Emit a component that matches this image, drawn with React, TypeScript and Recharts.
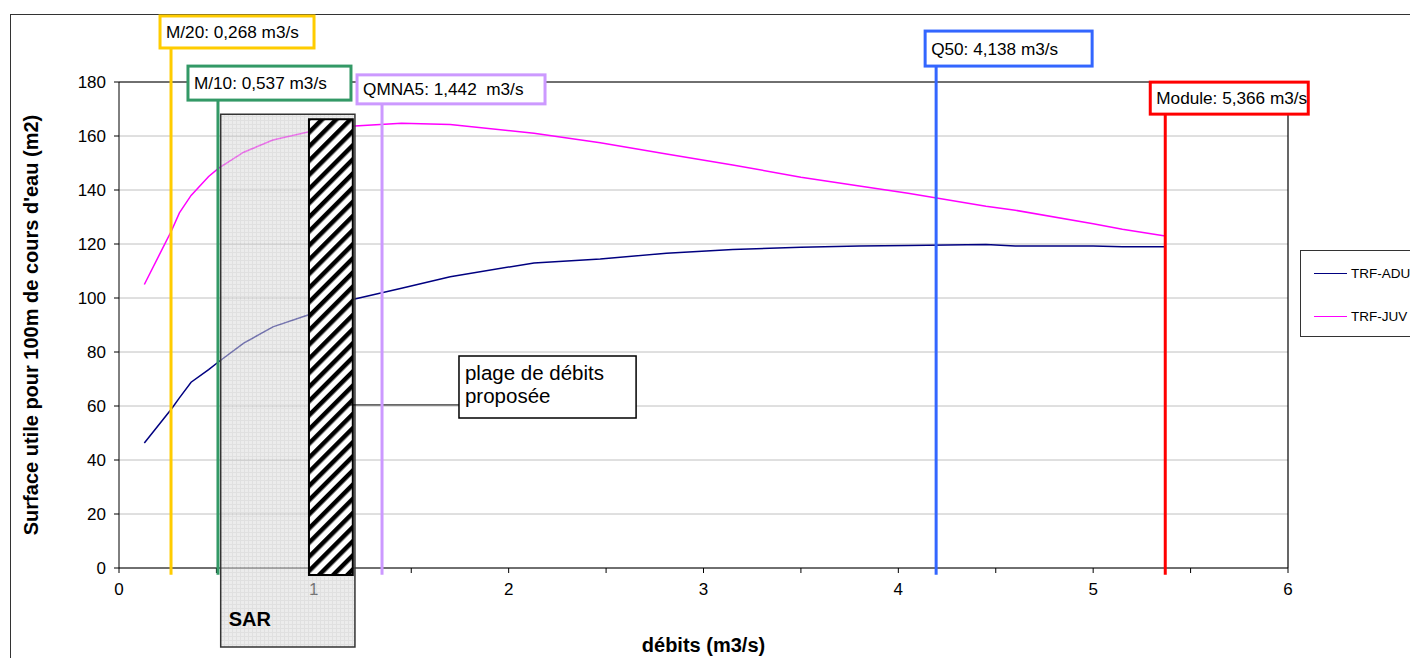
import React from 'react';
import {
  LineChart,
  Line,
  XAxis,
  YAxis,
  CartesianGrid,
  Legend,
  ReferenceLine,
  ReferenceArea
} from 'recharts';

// Débits (m3/s) et surfaces utiles (m2 / 100m)
const flows = [0.13, 0.27, 0.31, 0.37, 0.46, 0.51, 0.64, 0.79, 0.97, 1.21, 1.45, 1.70, 2.13, 2.47, 2.81, 3.15, 3.50, 3.80, 4.05, 4.45, 4.60, 5.00, 5.15, 5.37];
const adultArea = [46.3, 59, 63, 68.8, 73.5, 76.3, 83.3, 89.3, 93.7, 99.6, 103.6, 107.9, 113, 114.4, 116.6, 118, 118.8, 119.3, 119.4, 119.8, 119.3, 119.3, 119, 119];
const juvenileArea = [105, 125, 131.5, 138, 145, 148, 154, 158.5, 161.5, 163.7, 164.7, 164.3, 161, 157.5, 153.3, 149.3, 144.7, 141.5, 138.8, 134, 132.5, 127.5, 125.5, 123];

const seriesNames = ['TRF-ADU', 'TRF-JUV'];
const seriesColors = ['#000080', '#FF00FF'];

const xTicks = [0, 0.5, 1, 1.5, 2, 2.5, 3, 3.5, 4, 4.5, 5, 5.5, 6];
const yTicks = [0, 20, 40, 60, 80, 100, 120, 140, 160, 180];

// Débits caractéristiques
const markerNames = ['M/20: 0,268 m3/s', 'M/10: 0,537 m3/s', 'QMNA5: 1,442  m3/s', 'Q50: 4,138 m3/s', 'Module: 5,366 m3/s'];
const markerFlows = [0.267, 0.508, 1.35, 4.194, 5.37];
const markerTops = [192.6, 173.3, 171.9, 185.9, 168.1];
const markerColors = ['#FFCC00', '#339966', '#CC99FF', '#3366FF', '#FF0000'];

// SAR zone and proposed range (x in m3/s, y in m2)
const sarRange = [0.522, 1.211];
const sarHeight = [-29.3, 168.1];
const proposedRange = [0.975, 1.2];
const proposedHeight = [-2.6, 166.2];
const noteLines = ['plage de débits', 'proposée'];
const noteRange = [1.745, 2.654];
const noteHeight = [55.6, 78.5];
const noteLinkY = 60.4;

const FONT = '"Liberation Sans", Arial, sans-serif';

const data = flows.map((q, i) => ({ q, adu: adultArea[i], juv: juvenileArea[i] }));

// label box geometry relative to the marker line top
const markerBoxes = [
  { dx: -11, w: 154, h: 32 },
  { dx: -30, w: 163, h: 34 },
  { dx: -25, w: 188, h: 29 },
  { dx: -11, w: 167, h: 35 },
  { dx: -15, w: 158, h: 32 }
];

const MarkerBox = ({ viewBox, idx }: any) => {
  if (!viewBox) return null;
  const box = markerBoxes[idx];
  const x = viewBox.x + box.dx;
  const y = viewBox.y - box.h;
  return (
    <g>
      <rect x={x} y={y} width={box.w} height={box.h} fill="#fff" stroke={markerColors[idx]} strokeWidth={3} />
      <text x={x + 6} y={y + box.h / 2 + 6} fontSize={17.2} fontFamily={FONT} fill="#000" style={{ whiteSpace: 'pre' }}>
        {markerNames[idx]}
      </text>
    </g>
  );
};

const renderLegend = (props: any) => {
  const { payload } = props;
  return (
    <div
      style={{
        width: 140,
        height: 87,
        boxSizing: 'border-box',
        border: '1.5px solid #333',
        background: '#fff',
        fontFamily: FONT,
        fontSize: 13.5,
        position: 'relative'
      }}
    >
      {(payload || []).map((entry: any, i: number) => (
        <div key={i} style={{ position: 'absolute', left: 13, top: 13 + i * 43, display: 'flex', alignItems: 'center', height: 18 }}>
          <div style={{ width: 33, height: 0, borderTop: `1.5px solid ${entry.color}`, marginRight: 4 }} />
          <span style={{ color: '#000' }}>{entry.value}</span>
        </div>
      ))}
    </div>
  );
};

export default function App() {
  return (
    <div style={{ position: 'absolute', left: 0, top: 0, width: 1410, height: 658, overflow: 'hidden', background: '#fff' }}>
      <svg width={0} height={0} style={{ position: 'absolute' }}>
        <defs>
          <pattern id="sarGrid" width={4} height={4} patternUnits="userSpaceOnUse">
            <rect x={0} y={0} width={4} height={4} fill="#dcdcdc" />
            <rect x={0} y={0} width={4} height={1} fill="#c6c6c6" />
            <rect x={0} y={0} width={1} height={4} fill="#c6c6c6" />
          </pattern>
          <pattern id="hatch" width={10} height={10} patternUnits="userSpaceOnUse" patternTransform="rotate(45)">
            <rect x={0} y={0} width={10} height={10} fill="#fff" />
            <rect x={0} y={0} width={4.5} height={10} fill="#000" />
          </pattern>
        </defs>
      </svg>
      <div style={{ position: 'absolute', left: 10, top: 14, width: 1500, height: 800, borderLeft: '1.5px solid #333', borderTop: '1.5px solid #333' }} />
      <LineChart
        width={1410}
        height={658}
        data={data}
        margin={{ top: 82, right: 122, bottom: 60, left: 59 }}
        style={{ position: 'absolute', left: 0, top: 0, fontFamily: FONT }}
      >
        <CartesianGrid vertical={false} stroke="#c0c0c0" />
        <XAxis
          dataKey="q"
          type="number"
          domain={[0, 6]}
          ticks={xTicks}
          allowDataOverflow
          height={30}
          tickSize={5}
          tickMargin={10}
          stroke="#000"
          tick={{ fill: '#000', fontSize: 17, fontFamily: FONT }}
          tickFormatter={(v: number) => (Number.isInteger(v) ? String(v) : '')}
          label={({ viewBox }: any) => (
            <text x={viewBox.x + viewBox.width / 2} y={viewBox.y + viewBox.height + 54} textAnchor="middle" fontSize={20} fontWeight="bold" fontFamily={FONT} fill="#000">
              débits (m3/s)
            </text>
          )}
        />
        <YAxis
          type="number"
          domain={[0, 180]}
          ticks={yTicks}
          width={60}
          tickSize={5}
          tickMargin={8}
          stroke="#000"
          tick={{ fill: '#000', fontSize: 17, fontFamily: FONT }}
          label={({ viewBox }: any) => {
            const cy = viewBox.y + viewBox.height / 2;
            return (
              <text x={38} y={cy} transform={`rotate(-90, 38, ${cy})`} textAnchor="middle" fontSize={20} fontWeight="bold" fontFamily={FONT} fill="#000">
                Surface utile pour 100m de cours d'eau (m2)
              </text>
            );
          }}
        />
        <ReferenceLine y={180} stroke="#000" strokeWidth={1.2} />
        <ReferenceLine x={6} stroke="#000" strokeWidth={1.2} />
        <Line type="linear" dataKey="adu" name={seriesNames[0]} stroke={seriesColors[0]} strokeWidth={1.5} dot={false} isAnimationActive={false} />
        <Line type="linear" dataKey="juv" name={seriesNames[1]} stroke={seriesColors[1]} strokeWidth={1.5} dot={false} isAnimationActive={false} />
        <ReferenceArea
          x1={sarRange[0]}
          x2={sarRange[1]}
          y1={sarHeight[0]}
          y2={sarHeight[1]}
          ifOverflow="visible"
          zIndex={2100}
          fill="url(#sarGrid)"
          fillOpacity={0.55}
          stroke="#333"
          strokeWidth={1.5}
          label={({ viewBox }: any) => (
            <text x={viewBox.x + 8} y={viewBox.y + viewBox.height - 21} fontSize={20} fontWeight="bold" fontFamily={FONT} fill="#000">
              SAR
            </text>
          )}
        />
        <ReferenceArea
          x1={proposedRange[0]}
          x2={proposedRange[1]}
          y1={proposedHeight[0]}
          y2={proposedHeight[1]}
          ifOverflow="visible"
          zIndex={2110}
          fill="url(#hatch)"
          fillOpacity={1}
          stroke="#000"
          strokeWidth={2}
        />
        <ReferenceLine
          segment={[{ x: proposedRange[1] - 0.02, y: noteLinkY }, { x: noteRange[0], y: noteLinkY }]}
          ifOverflow="visible"
          zIndex={2120}
          stroke="#000"
          strokeWidth={1}
        />
        <ReferenceArea
          x1={noteRange[0]}
          x2={noteRange[1]}
          y1={noteHeight[0]}
          y2={noteHeight[1]}
          ifOverflow="visible"
          zIndex={2120}
          fill="#fff"
          fillOpacity={1}
          stroke="#000"
          strokeWidth={1.5}
          label={({ viewBox }: any) => (
            <text fontSize={20.5} fontFamily={FONT} fill="#000">
              {noteLines.map((l, i) => (
                <tspan key={i} x={viewBox.x + 6} y={viewBox.y + 24 + i * 23}>{l}</tspan>
              ))}
            </text>
          )}
        />
        {markerFlows.map((f, i) => (
          <ReferenceLine
            key={i}
            segment={[{ x: f, y: -2.5 }, { x: f, y: markerTops[i] }]}
            ifOverflow="visible"
            zIndex={2130}
            stroke={markerColors[i]}
            strokeWidth={3}
            label={(p: any) => <MarkerBox {...p} idx={i} />}
          />
        ))}
        <Legend
          layout="vertical"
          align="center"
          verticalAlign="middle"
          content={renderLegend}
          wrapperStyle={{ left: 1300, top: 250, width: 140 }}
        />
      </LineChart>
    </div>
  );
}
